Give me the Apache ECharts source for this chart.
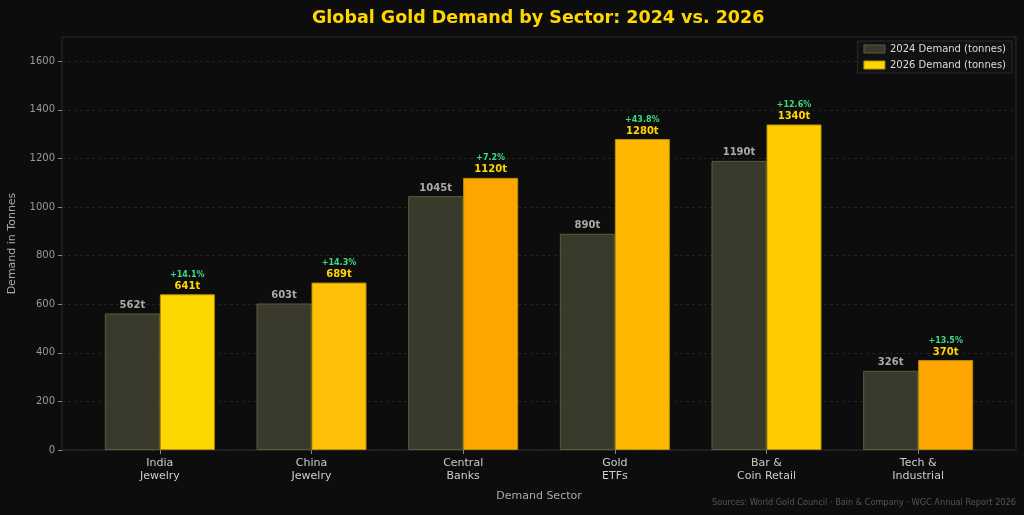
<!DOCTYPE html>
<html>
<head>
<meta charset="utf-8">
<script src="https://cdn.jsdelivr.net/npm/echarts@6/dist/echarts.min.js"></script>
<style>
  html, body { margin: 0; padding: 0; background: #0d0d0d; }
  #chart { width: 1024px; height: 515px; }
</style>
</head>
<body>
<div id="chart"></div>
<script>
// ~~ Data
const sectors = ['India\nJewelry', 'China\nJewelry', 'Central\nBanks', 'Gold\nETFs', 'Bar &\nCoin Retail', 'Tech &\nIndustrial']
const demand2024 = [562, 603, 1045, 890, 1190, 326]
const demand2026 = [641, 689, 1120, 1280, 1340, 370]
const colors2026 = ['#FFD700', '#FFC107', '#FFA500', '#FFB800', '#FFCC00', '#FFA500']
const yTicks = [0, 200, 400, 600, 800, 1000, 1200, 1400, 1600]

const FONT = '"DejaVu Sans", Verdana, sans-serif'

const growth = demand2026.map((v, i) => '+' + (((v - demand2024[i]) / demand2024[i]) * 100).toFixed(1) + '%')

const option = {
  backgroundColor: '#0d0d0d',
  animation: false,
  textStyle: { fontFamily: FONT },
  title: {
    text: 'Global Gold Demand by Sector: 2024 vs. 2026',
    left: 307,
    top: 4,
    textStyle: { color: '#FFD700', fontSize: 17.5, fontWeight: 'bold', fontFamily: FONT },
  },
  legend: {
    right: 12,
    top: 41,
    orient: 'vertical',
    icon: 'rect',
    itemWidth: 21,
    itemHeight: 8,
    itemGap: 6,
    backgroundColor: '#111111',
    borderColor: '#2a2a2a',
    borderWidth: 1,
    padding: [3, 6],
    textStyle: { color: '#dddddd', fontSize: 10, fontFamily: FONT },
    data: [
      { name: '2024 Demand (tonnes)', itemStyle: { color: '#3a3a2c', borderColor: '#5c5c3c', borderWidth: 1 } },
      { name: '2026 Demand (tonnes)', itemStyle: { color: '#FFD700', borderColor: '#b8960b', borderWidth: 1 } },
    ],
  },
  grid: [
    // frame + y axis
    { left: 62, right: 8, top: 37, bottom: 65, outerBoundsMode: 'none', show: true, borderColor: '#2e2e2e', borderWidth: 1, backgroundColor: 'transparent' },
    // bars (category spacing narrower than frame)
    { left: 84, right: 30, top: 37, bottom: 65, outerBoundsMode: 'none' },
  ],
  xAxis: [
    { gridIndex: 0, type: 'value', show: false, min: 0, max: 1 },
    {
      gridIndex: 1,
      type: 'category',
      data: sectors,
      axisLine: { show: false },
      axisTick: { show: true, alignWithLabel: true, length: 4, lineStyle: { color: '#888' } },
      axisLabel: { color: '#cccccc', fontSize: 11, lineHeight: 13, margin: 7, fontFamily: FONT },
      name: 'Demand Sector',
      nameLocation: 'middle',
      nameGap: 41,
      nameTextStyle: { color: '#aaaaaa', fontSize: 11, fontFamily: FONT },
    },
  ],
  yAxis: [
    {
      gridIndex: 0,
      type: 'value',
      min: 0,
      max: 1700,
      interval: 100,
      axisLine: { show: false },
      axisTick: { show: true, length: 4, lineStyle: { color: '#888' }, customValues: yTicks },
      axisLabel: {
        color: '#999999',
        fontSize: 10,
        margin: 7,
        fontFamily: FONT,
        customValues: yTicks,
        formatter: (v) => String(v),
      },
      splitLine: { show: true, lineStyle: { color: '#2a2a2a', type: [3, 3], width: 0.8 } },
      name: 'Demand in Tonnes',
      nameLocation: 'middle',
      nameGap: 44,
      nameRotate: 90,
      nameTextStyle: { color: '#aaaaaa', fontSize: 11, fontFamily: FONT },
    },
    { gridIndex: 1, type: 'value', min: 0, max: 1700, show: false, splitLine: { show: false } },
  ],
  series: [
    {
      name: '2024 Demand (tonnes)',
      type: 'bar',
      xAxisIndex: 1,
      yAxisIndex: 1,
      barWidth: 55,
      barGap: '0%',
      data: demand2024,
      itemStyle: { color: '#3a3a2c', borderColor: '#5c5c3c', borderWidth: 1 },
      label: {
        show: true,
        position: 'top',
        distance: 3,
        formatter: (p) => p.value + 't',
        color: '#aaaaaa',
        fontSize: 10,
        fontWeight: 'bold',
        fontFamily: FONT,
      },
    },
    {
      name: '2026 Demand (tonnes)',
      type: 'bar',
      xAxisIndex: 1,
      yAxisIndex: 1,
      barWidth: 55,
      barGap: '0%',
      data: demand2026.map((v, i) => ({
        value: v,
        itemStyle: { color: colors2026[i], borderColor: '#b8900b', borderWidth: 1 },
      })),
      itemStyle: { color: '#FFD700' },
      label: {
        show: true,
        position: 'top',
        distance: 2,
        formatter: (p) => '{g|' + growth[p.dataIndex] + '}\n{v|' + p.value + 't}',
        rich: {
          g: { color: '#3ddc84', fontSize: 8, fontWeight: 'bold', fontFamily: FONT, lineHeight: 11 },
          v: { color: '#FFD700', fontSize: 10, fontWeight: 'bold', fontFamily: FONT, lineHeight: 12 },
        },
      },
    },
  ],
  graphic: [
    {
      type: 'text',
      right: 8,
      top: 499,
      style: {
        text: 'Sources: World Gold Council · Bain & Company · WGC Annual Report 2026',
        fill: '#555555',
        font: '8.2px ' + FONT,
      },
    },
  ],
}

const c = echarts.init(document.getElementById('chart'), null, { renderer: 'canvas' })
c.setOption(option)
</script>
</body>
</html>
